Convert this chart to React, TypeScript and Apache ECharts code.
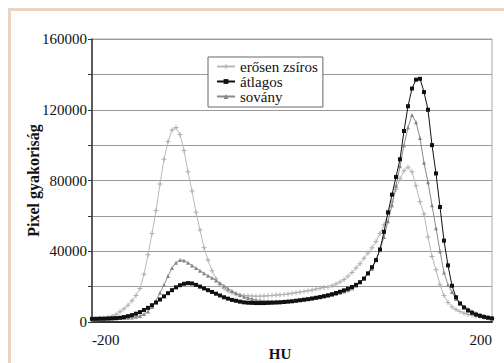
import React, { useEffect, useRef } from "react";
import * as echarts from "echarts";

const xValues: number[] = [];
for (let x = -200; x <= 200; x += 4) xValues.push(x);

const seriesNames = ["erősen zsíros", "átlagos", "sovány"];

const erosenZsiros = [
  1500, 1800, 2000, 2300, 2700, 3300, 4300, 5800, 7500, 9500,
  12000, 15000, 19000, 27000, 38000, 50000, 63000, 78000, 92000, 102000,
  108500, 110000, 106000, 97000, 85000, 74000, 62000, 52000, 42000, 35000,
  29000, 24500, 21000, 19000, 17500, 16500, 15800, 15300, 15000, 14800,
  14700, 14600, 14600, 14700, 14800, 15000, 15200, 15400, 15600, 15900,
  16200, 16500, 16900, 17300, 17700, 18100, 18600, 19100, 19500, 19800,
  20500, 21500, 22600, 24000, 25800, 28000, 30500, 33000, 36000, 39000,
  42000, 45500, 50000, 55000, 61000, 68000, 75000, 81000, 85500, 87500,
  85000, 77000, 68000, 61000, 48000, 37000, 29500, 21000, 15000, 11000,
  8500, 7000, 6000, 5000, 4300, 3800, 3300, 2900, 2600, 2300,
  2100,
];

const atlagos = [
  1800, 1800, 1900, 1900, 2000, 2100, 2200, 2400, 2800, 3300,
  3900, 4700, 5600, 6800, 8000, 9500, 11000, 12700, 14500, 16300,
  18000, 19600, 20800, 21600, 22000, 21800, 21000, 20000, 19000, 18000,
  17000, 16000, 15000, 14000, 13200, 12500, 12000, 11500, 11100, 10900,
  10800, 10700, 10700, 10700, 10800, 10900, 11000, 11100, 11300, 11500,
  11700, 12000, 12300, 12600, 12900, 13300, 13700, 14100, 14600, 15100,
  15700, 16400, 17100, 17900, 18800, 19800, 21000, 22500, 24500, 27500,
  31000, 35000, 41000, 51000, 62000, 72000, 82000, 92000, 108000, 122000,
  132000, 137000, 137500, 130000, 120000, 100000, 84000, 65000, 46000, 32000,
  20500, 14000, 10500, 8200, 6500, 5200, 4200, 3500, 2900, 2400,
  2000,
];

const sovany = [
  1500, 1600, 1700, 1800, 1900, 2000, 2100, 2200, 2300, 2400,
  2600, 2900, 3400, 4500, 6000, 8500, 12000, 16500, 21000, 26000,
  30500, 33500, 35000, 34800, 33500, 32000, 30500, 29000, 27500, 26200,
  25000, 23500, 22000, 20500, 19000, 17500, 16200, 15200, 14300, 13600,
  13000, 12500, 12200, 12000, 11900, 11800, 11800, 11800, 11900, 12000,
  12100, 12300, 12500, 12800, 13000, 13300, 13600, 14000, 14400, 14800,
  15300, 15900, 16500, 17200, 18000, 19000, 20500, 22500, 25000, 27500,
  30000, 35000, 41000, 48000, 57000, 66000, 77000, 88000, 100000, 110000,
  117000, 113000, 104000, 90000, 79000, 66000, 53000, 40000, 28000, 21000,
  17000, 13000, 10500, 8800, 7500, 6200, 5100, 4200, 3500, 3000,
  2600,
];

const xLabels = ["-200", "200"];
const yLabelStep = 40000;

const plusPath = "path://M4,0H6V4H10V6H6V10H4V6H0V4H4Z";
const FONT = "Liberation Serif";
const TEXT = "#111";

export default function App() {
  const ref = useRef<HTMLDivElement>(null);
  useEffect(() => {
    if (!ref.current) return;
    const chart = echarts.init(ref.current, undefined, { renderer: "svg" });
    const pair = (arr: number[]) => xValues.map((x, i) => [x, arr[i]]);
    chart.setOption({
      animation: false,
      backgroundColor: "#ffffff",
      textStyle: { fontFamily: FONT },
      graphic: [
        { type: "rect", shape: { x: 8, y: 8, width: 496, height: 3 }, style: { fill: "#e8d5c1" }, silent: true },
        { type: "rect", shape: { x: 8, y: 8, width: 3, height: 355 }, style: { fill: "#e8d5c1" }, silent: true },
      ],
      grid: {
        left: 92,
        right: 12,
        top: 39,
        bottom: 41,
        outerBoundsMode: "none",
        containLabel: false,
        show: true,
        borderColor: "#a8a8a8",
        borderWidth: 1,
      },
      legend: {
        orient: "vertical",
        left: 208,
        top: 57,
        padding: [2, 5, 3, 8],
        itemGap: 0,
        itemWidth: 18,
        itemHeight: 6,
        backgroundColor: "#ffffff",
        borderColor: "#666",
        borderWidth: 1,
        borderRadius: 0,
        textStyle: { fontFamily: FONT, fontSize: 15, color: TEXT, lineHeight: 14.5 },
        data: seriesNames,
      },
      xAxis: {
        type: "value",
        min: -200,
        max: 200,
        interval: 400,
        name: "HU",
        nameLocation: "middle",
        nameGap: 24,
        nameMoveOverlap: false,
        nameTextStyle: { fontFamily: FONT, fontSize: 15, fontWeight: "bold", color: TEXT, padding: [0, 24, 0, 0] },
        axisLine: { lineStyle: { color: "#333", width: 2 } },
        axisTick: { show: false },
        splitLine: { show: false },
        axisLabel: {
          fontFamily: FONT,
          fontSize: 15,
          color: TEXT,
          margin: 10,
          alignMinLabel: "left",
          alignMaxLabel: "right",
          formatter: (v: number) => (v === -200 ? xLabels[0] : v === 200 ? xLabels[1] : ""),
        },
      },
      yAxis: {
        type: "value",
        min: 0,
        max: 160000,
        interval: 20000,
        name: "Pixel gyakoriság",
        nameLocation: "middle",
        nameRotate: 90,
        nameGap: 51,
        nameMoveOverlap: false,
        nameTextStyle: { fontFamily: FONT, fontSize: 16, fontWeight: "bold", color: TEXT },
        axisLine: { show: true, onZero: false, lineStyle: { color: "#333", width: 1.5 } },
        axisTick: { show: true, length: 4, lineStyle: { color: "#333" } },
        splitLine: { lineStyle: { color: "#9a9a9a", width: 1 } },
        axisLabel: {
          fontFamily: FONT,
          fontSize: 15,
          color: TEXT,
          margin: 5,
          formatter: (v: number) => (v % yLabelStep === 0 ? String(v) : ""),
        },
      },
      series: [
        {
          name: seriesNames[0],
          type: "line",
          data: pair(erosenZsiros),
          symbol: plusPath,
          symbolSize: 5,
          showAllSymbol: true,
          lineStyle: { color: "#b8b8b8", width: 1 },
          itemStyle: { color: "#b0b0b0" },
          z: 2,
        },
        {
          name: seriesNames[1],
          type: "line",
          data: pair(atlagos),
          symbol: "rect",
          symbolSize: 4,
          showAllSymbol: true,
          lineStyle: { color: "#111", width: 1 },
          itemStyle: { color: "#111" },
          z: 4,
        },
        {
          name: seriesNames[2],
          type: "line",
          data: pair(sovany),
          symbol: "triangle",
          symbolSize: 4,
          showAllSymbol: true,
          lineStyle: { color: "#8a8a8a", width: 1 },
          itemStyle: { color: "#888" },
          z: 3,
        },
      ],
    });
    return () => chart.dispose();
  }, []);
  return <div ref={ref} style={{ width: 504, height: 363, position: "absolute", left: 0, top: 0 }} />;
}
